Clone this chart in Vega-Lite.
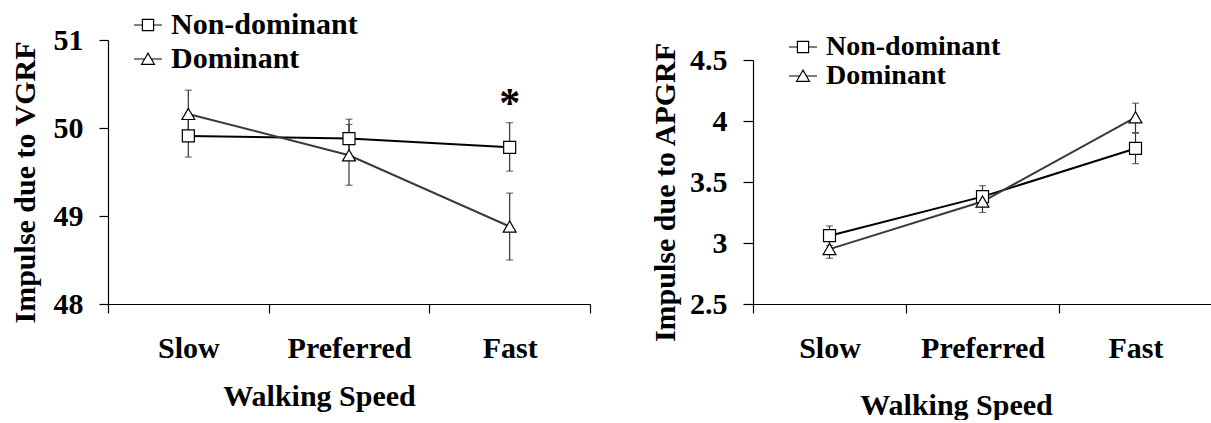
{
  "$schema": "https://vega.github.io/schema/vega-lite/v6.json",
  "autosize": {"type": "pad"},
  "padding": {"left": 9, "top": 10, "right": 0, "bottom": 0},
  "background": "white",
  "bounds": "flush",
  "spacing": 163,
  "datasets": {
    "vgrf": [
      {"speed": "Slow", "series": "Non-dominant", "mean": 49.91, "lo": 49.67, "hi": 50.15},
      {"speed": "Preferred", "series": "Non-dominant", "mean": 49.88, "lo": 49.66, "hi": 50.10},
      {"speed": "Fast", "series": "Non-dominant", "mean": 49.78, "lo": 49.51, "hi": 50.06},
      {"speed": "Slow", "series": "Dominant", "mean": 50.16, "lo": 49.89, "hi": 50.43},
      {"speed": "Preferred", "series": "Dominant", "mean": 49.69, "lo": 49.35, "hi": 50.04},
      {"speed": "Fast", "series": "Dominant", "mean": 48.88, "lo": 48.50, "hi": 49.26}
    ],
    "apgrf": [
      {"speed": "Slow", "series": "Non-dominant", "mean": 3.06, "lo": 2.98, "hi": 3.14},
      {"speed": "Preferred", "series": "Non-dominant", "mean": 3.38, "lo": 3.30, "hi": 3.47},
      {"speed": "Fast", "series": "Non-dominant", "mean": 3.775, "lo": 3.65, "hi": 3.90},
      {"speed": "Slow", "series": "Dominant", "mean": 2.95, "lo": 2.875, "hi": 3.02},
      {"speed": "Preferred", "series": "Dominant", "mean": 3.34, "lo": 3.25, "hi": 3.43},
      {"speed": "Fast", "series": "Dominant", "mean": 4.03, "lo": 3.905, "hi": 4.146}
    ],
    "notes": [
      {"speed": "Fast", "y": 50.35, "label": "*"}
    ]
  },
  "config": {
    "view": {"stroke": null},
    "font": "Liberation Serif",
    "axis": {
      "grid": false,
      "domainColor": "#000",
      "domainWidth": 1.2,
      "tickColor": "#000",
      "tickWidth": 1.2,
      "tickSize": 9,
      "labelFont": "Liberation Serif",
      "labelFontWeight": "bold",
      "labelFontSize": 30,
      "labelColor": "#000",
      "titleFont": "Liberation Serif",
      "titleFontWeight": "bold",
      "titleFontSize": 30,
      "titleColor": "#000"
    },
    "legend": {
      "labelFont": "Liberation Serif",
      "labelFontWeight": "bold",
      "labelFontSize": 30,
      "labelColor": "#000",
      "labelLimit": 400,
      "symbolStrokeColor": "#000",
      "symbolFillColor": "#fff",
      "symbolStrokeWidth": 1.2,
      "symbolOpacity": 1,
      "symbolSize": 784,
      "padding": 0,
      "labelOffset": 8
    }
  },
  "resolve": {
    "scale": {"shape": "independent"},
    "legend": {"shape": "independent"}
  },
  "hconcat": [
    {
      "width": 482,
      "height": 264,
      "layer": [
        {
          "data": {"name": "vgrf"},
          "mark": {"type": "errorbar", "ticks": {"size": 7}, "color": "#333", "thickness": 1.2},
          "encoding": {
            "x": {
              "field": "speed", "type": "nominal", "sort": ["Slow", "Preferred", "Fast"],
              "scale": {"type": "band", "domain": ["Slow", "Preferred", "Fast"], "paddingInner": 0, "paddingOuter": 0},
              "axis": {"title": "Walking Speed", "tickBand": "extent", "labelAngle": 0, "labelPadding": 20, "titleX": 211, "titleY": 101, "titleBaseline": "alphabetic", "titleAnchor": null, "titleAlign": "center"}
            },
            "y": {
              "field": "lo", "type": "quantitative",
              "scale": {"domain": [48, 51], "nice": false, "zero": false},
              "axis": {"title": "Impulse due to VGRF", "values": [48, 49, 50, 51], "format": "~g", "labelPadding": 16, "titleAngle": 270, "titleX": -83, "titleY": 142, "titleAlign": "center", "titleBaseline": "middle", "titleAnchor": null}
            },
            "y2": {"field": "hi"},
            "detail": {"field": "series"}
          }
        },
        {
          "data": {"name": "vgrf"},
          "mark": {"type": "line", "strokeWidth": 2},
          "encoding": {
            "x": {"field": "speed", "type": "nominal", "sort": ["Slow", "Preferred", "Fast"]},
            "y": {"field": "mean", "type": "quantitative"},
            "detail": {"field": "series"},
            "color": {"condition": {"test": "datum.series === 'Dominant'", "value": "#3a3a3a"}, "value": "#000000"}
          }
        },
        {
          "data": {"name": "vgrf"},
          "transform": [{"filter": "datum.series === 'Non-dominant'"}],
          "mark": {"type": "point", "shape": "square", "filled": true, "fill": "white", "stroke": "black", "strokeWidth": 1.2, "size": 144, "opacity": 1},
          "encoding": {
            "x": {"field": "speed", "type": "nominal", "sort": ["Slow", "Preferred", "Fast"]},
            "y": {"field": "mean", "type": "quantitative"}
          }
        },
        {
          "data": {"name": "vgrf"},
          "transform": [{"filter": "datum.series === 'Dominant'"}],
          "mark": {"type": "point", "shape": "triangle-up", "filled": true, "fill": "white", "stroke": "black", "strokeWidth": 1.2, "size": 165, "opacity": 1},
          "encoding": {
            "x": {"field": "speed", "type": "nominal", "sort": ["Slow", "Preferred", "Fast"]},
            "y": {"field": "mean", "type": "quantitative"}
          }
        },
        {
          "data": {"name": "vgrf"},
          "mark": {"type": "point", "opacity": 0, "color": "black"},
          "encoding": {
            "x": {"field": "speed", "type": "nominal", "sort": ["Slow", "Preferred", "Fast"]},
            "y": {"field": "mean", "type": "quantitative"},
            "shape": {
              "field": "series", "type": "nominal",
              "scale": {"domain": ["Non-dominant", "Dominant"], "range": ["M-1,0H-0.4M0.4,0H1M-0.4,-0.4H0.4V0.4H-0.4Z", "M-1,0H-0.24M0.24,0H1M0,-0.42L0.46,0.38H-0.46Z"]},
              "legend": {"orient": "none", "legendX": 25, "legendY": -30, "title": null, "rowPadding": 4}
            }
          }
        },
        {
          "data": {"name": "notes"},
          "mark": {"type": "text", "font": "Liberation Serif", "fontWeight": "bold", "fontSize": 42, "baseline": "alphabetic", "dy": 20, "color": "black"},
          "encoding": {
            "x": {"field": "speed", "type": "nominal", "sort": ["Slow", "Preferred", "Fast"]},
            "y": {"field": "y", "type": "quantitative"},
            "text": {"field": "label"}
          }
        }
      ]
    },
    {
      "width": 459,
      "height": 264,
      "layer": [
        {
          "data": {"name": "apgrf"},
          "mark": {"type": "errorbar", "ticks": {"size": 7}, "color": "#333", "thickness": 1.2},
          "encoding": {
            "x": {
              "field": "speed", "type": "nominal", "sort": ["Slow", "Preferred", "Fast"],
              "scale": {"type": "band", "domain": ["Slow", "Preferred", "Fast"], "paddingInner": 0, "paddingOuter": 0},
              "axis": {"title": "Walking Speed", "tickBand": "extent", "labelAngle": 0, "labelPadding": 20, "titleX": 203, "titleY": 110, "titleBaseline": "alphabetic", "titleAnchor": null, "titleAlign": "center"}
            },
            "y": {
              "field": "lo", "type": "quantitative",
              "scale": {"domain": [2.5, 4.5], "range": [264, 20], "nice": false, "zero": false},
              "axis": {"title": "Impulse due to APGRF", "values": [2.5, 3, 3.5, 4, 4.5], "format": "~g", "labelPadding": 16, "tickSize": 10, "titleAngle": 270, "titleX": -88, "titleY": 152, "titleAlign": "center", "titleBaseline": "middle", "titleAnchor": null}
            },
            "y2": {"field": "hi"},
            "detail": {"field": "series"}
          }
        },
        {
          "data": {"name": "apgrf"},
          "mark": {"type": "line", "strokeWidth": 2},
          "encoding": {
            "x": {"field": "speed", "type": "nominal", "sort": ["Slow", "Preferred", "Fast"]},
            "y": {"field": "mean", "type": "quantitative"},
            "detail": {"field": "series"},
            "color": {"condition": {"test": "datum.series === 'Dominant'", "value": "#3a3a3a"}, "value": "#000000"}
          }
        },
        {
          "data": {"name": "apgrf"},
          "transform": [{"filter": "datum.series === 'Non-dominant'"}],
          "mark": {"type": "point", "shape": "square", "filled": true, "fill": "white", "stroke": "black", "strokeWidth": 1.2, "size": 144, "opacity": 1},
          "encoding": {
            "x": {"field": "speed", "type": "nominal", "sort": ["Slow", "Preferred", "Fast"]},
            "y": {"field": "mean", "type": "quantitative"}
          }
        },
        {
          "data": {"name": "apgrf"},
          "transform": [{"filter": "datum.series === 'Dominant'"}],
          "mark": {"type": "point", "shape": "triangle-up", "filled": true, "fill": "white", "stroke": "black", "strokeWidth": 1.2, "size": 165, "opacity": 1},
          "encoding": {
            "x": {"field": "speed", "type": "nominal", "sort": ["Slow", "Preferred", "Fast"]},
            "y": {"field": "mean", "type": "quantitative"}
          }
        },
        {
          "data": {"name": "apgrf"},
          "mark": {"type": "point", "opacity": 0, "color": "black"},
          "encoding": {
            "x": {"field": "speed", "type": "nominal", "sort": ["Slow", "Preferred", "Fast"]},
            "y": {"field": "mean", "type": "quantitative"},
            "shape": {
              "field": "series", "type": "nominal",
              "scale": {"domain": ["Non-dominant", "Dominant"], "range": ["M-1,0H-0.4M0.4,0H1M-0.4,-0.4H0.4V0.4H-0.4Z", "M-1,0H-0.24M0.24,0H1M0,-0.42L0.46,0.38H-0.46Z"]},
              "legend": {"orient": "none", "legendX": 35, "legendY": -8, "title": null, "rowPadding": 0, "labelFontSize": 28}
            }
          }
        }
      ]
    }
  ]
}
